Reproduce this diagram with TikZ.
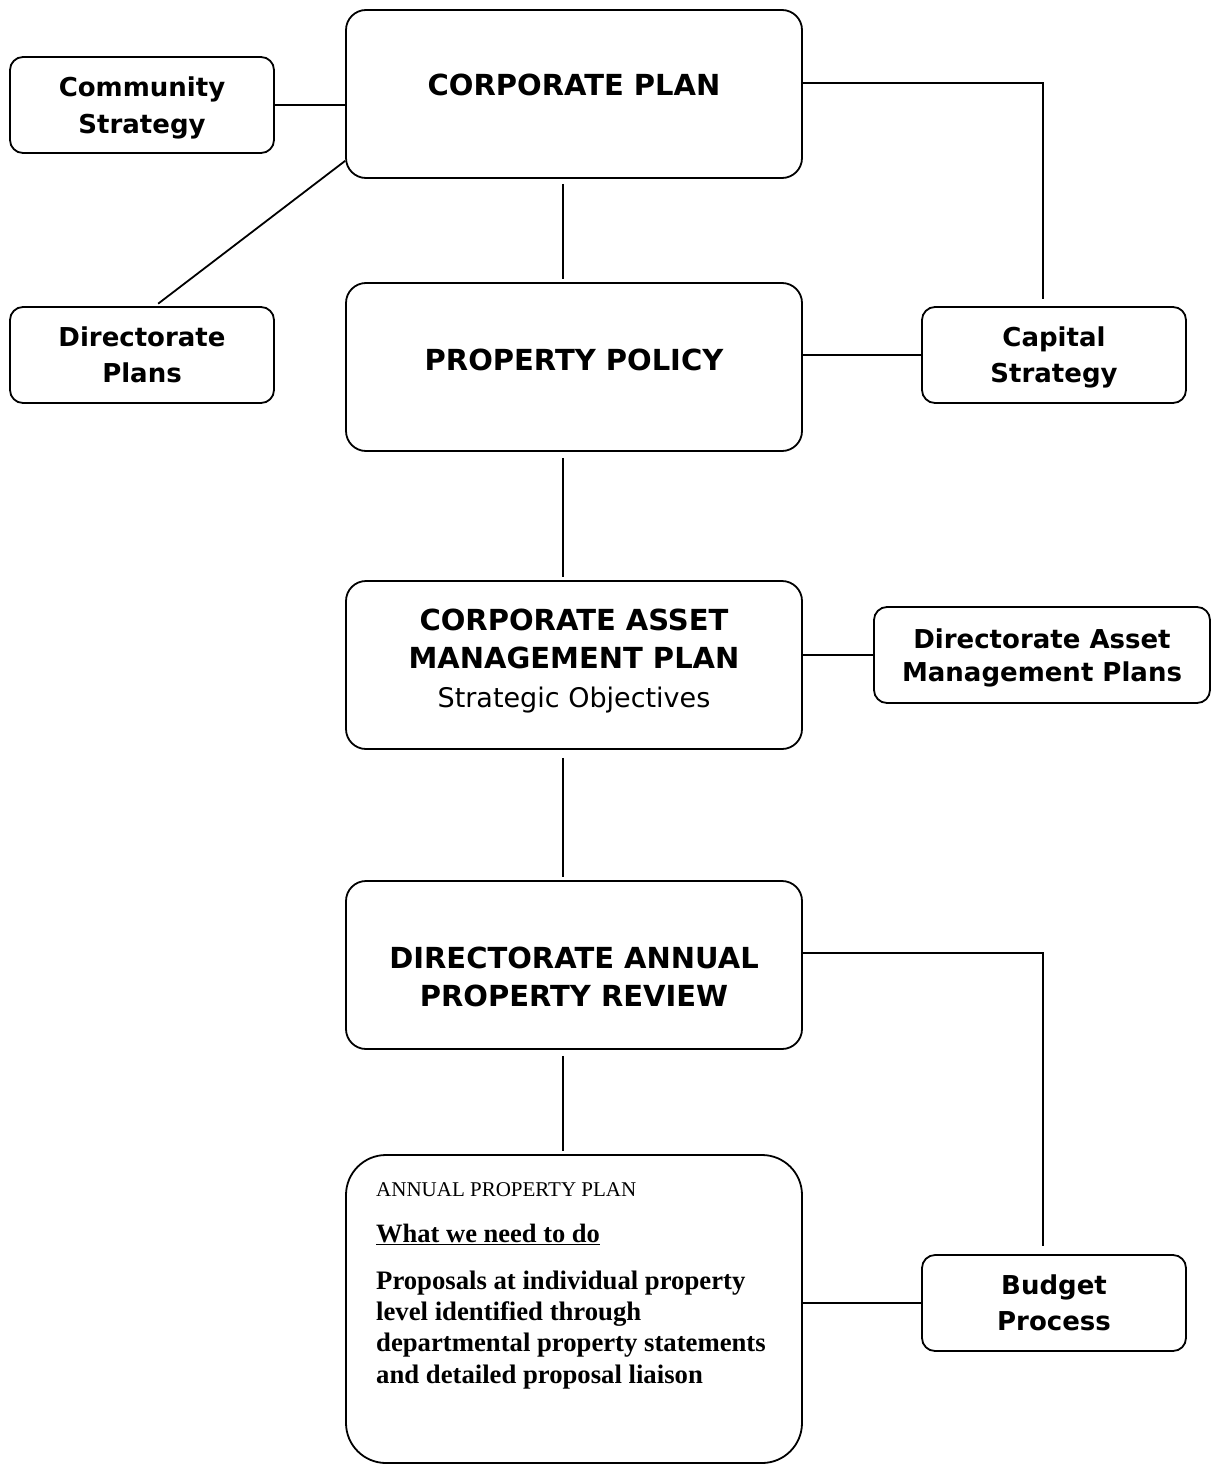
\documentclass[tikz,border=0pt]{standalone}
\usepackage{fontspec}
\setmainfont{DejaVu Sans}
\newfontfamily\timesfont{Liberation Serif}
\usetikzlibrary{positioning}

\begin{document}
\begin{tikzpicture}[x=1pt,y=-1pt,
    bigbox/.style={rectangle,draw,rounded corners=20pt,minimum width=456pt,minimum height=168pt,line width=1.8pt},
    smallbox/.style={rectangle,draw,rounded corners=13pt,minimum width=264pt,minimum height=96pt,line width=1.8pt,align=center,inner sep=0pt,text depth=0pt,font=\fontsize{26}{36}\selectfont\bfseries},
    bigtxt/.style={align=center,inner sep=0pt,font=\fontsize{29}{38.5}\selectfont\bfseries},
    apptxt/.style={anchor=base west,inner sep=0pt,align=left},
    link/.style={line width=1.8pt},
]
\useasboundingbox (0,0) rectangle (1215,1464);

% main column
\node[bigbox] (cp) at (574,94) {};
\node[bigbox] (pp) at (574,367) {};
\node[bigbox] (camp) at (574,665) {};
\node[bigbox] (dapr) at (574,965) {};
\node[bigbox,rounded corners=40pt,minimum height=308pt] (app) at (574,1309) {};

\node[bigtxt] (cp-t) at (574,85) {CORPORATE PLAN};
\node[bigtxt] (pp-t) at (574,360) {PROPERTY POLICY};
\node[bigtxt] (camp-t) at (574,661) {CORPORATE ASSET\\MANAGEMENT PLAN\\{\fontsize{27}{38.5}\selectfont\mdseries Strategic Objectives}};
\node[bigtxt] (dapr-t) at (574,977) {DIRECTORATE ANNUAL\\PROPERTY REVIEW};

\node[apptxt,font=\timesfont\fontsize{21}{25}\selectfont] (app-h) at (376,1196) {ANNUAL PROPERTY PLAN};
\node[apptxt,font=\timesfont\fontsize{26.5}{31}\selectfont\bfseries] (app-s) at (376,1242) {\underline{What we need to do}};
\node[apptxt,font=\timesfont\fontsize{26.7}{31.3}\selectfont\bfseries] (app-b) at (376,1383) {Proposals at individual property\\level identified through\\departmental property statements\\and detailed proposal liaison};

% side boxes
\node[smallbox,font=\fontsize{26}{37}\selectfont\bfseries] (cs) at (142,105) {Community\\Strategy};
\node[smallbox] (dp) at (142,355) {Directorate\\Plans};
\node[smallbox] (cap) at (1054,355) {Capital\\Strategy};
\node[smallbox,minimum width=336pt,font=\fontsize{26}{33}\selectfont\bfseries] (damp) at (1042,655) {Directorate Asset\\Management Plans};
\node[smallbox] (bp) at (1054,1303) {Budget\\Process};

% links
\draw[link] (cs.east) -- (cs.east -| cp.west);
\draw[link,shorten >=4pt] ([yshift=18pt]cp.south west) -- ([xshift=13pt]dp.north);
\draw[link,shorten <=5pt,shorten >=3pt] ([xshift=-11pt]cp.south) -- ([xshift=-11pt]pp.north);
\draw[link,shorten >=7pt] ([yshift=11pt]cp.east) -| ([xshift=-11pt]cap.north);
\draw[link] (pp.east |- cap.west) -- (cap.west);
\draw[link,shorten <=6pt,shorten >=3pt] ([xshift=-11pt]pp.south) -- ([xshift=-11pt]camp.north);
\draw[link] (camp.east |- damp.west) -- (damp.west);
\draw[link,shorten <=8pt,shorten >=3pt] ([xshift=-11pt]camp.south) -- ([xshift=-11pt]dapr.north);
\draw[link,shorten >=8pt] ([yshift=12pt]dapr.east) -| ([xshift=-11pt]bp.north);
\draw[link,shorten <=6pt,shorten >=3pt] ([xshift=-11pt]dapr.south) -- ([xshift=-11pt]app.north);
\draw[link] (app.east |- bp.west) -- (bp.west);
\end{tikzpicture}
\end{document}
